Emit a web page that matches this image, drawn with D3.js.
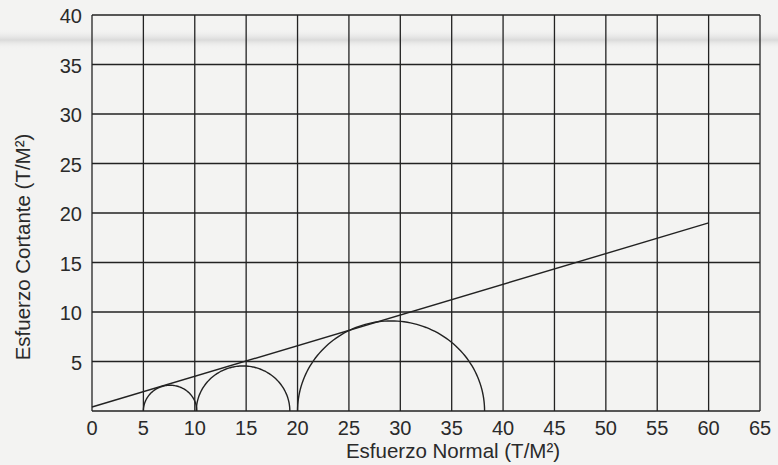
<!DOCTYPE html>
<html>
<head>
<meta charset="utf-8">
<script src="https://cdn.jsdelivr.net/npm/d3@7"></script>
<style>
  html, body { margin: 0; padding: 0; background: #f3f3f2; }
  svg { display: block; }
  text { font-family: "Liberation Sans", Arial, sans-serif; fill: #2a2a2a; }
</style>
</head>
<body>
<svg id="chart" width="778" height="465"></svg>
<script>
// Mohr circles (centre, radius) in T/M²
const circleCenters = [7.6, 14.7, 29.1];
const circleRadii = [2.6, 4.55, 9.1];
// Failure envelope end points: normal stress and shear stress
const envelopeX = [0, 60];
const envelopeY = [0.4, 19];
// Axis ticks
const xTicks = [0, 5, 10, 15, 20, 25, 30, 35, 40, 45, 50, 55, 60, 65];
const yTicks = [5, 10, 15, 20, 25, 30, 35, 40];
const xGrid = [0, 5, 10, 15, 20, 25, 30, 35, 40, 45, 50, 55, 60, 65];
const yGrid = [0, 5, 10, 15, 20, 25, 30, 35, 40];

const svg = d3.select("#chart");
const W = 778, H = 465;

// soft paper shading
const defs = svg.append("defs");
const grad = defs.append("linearGradient").attr("id", "band")
  .attr("x1", 0).attr("y1", 0).attr("x2", 0).attr("y2", 1);
grad.append("stop").attr("offset", "0%").attr("stop-color", "#f3f3f2").attr("stop-opacity", 0);
grad.append("stop").attr("offset", "55%").attr("stop-color", "#d2d2d2").attr("stop-opacity", 0.75);
grad.append("stop").attr("offset", "100%").attr("stop-color", "#f3f3f2").attr("stop-opacity", 0);
svg.append("rect").attr("width", W).attr("height", H).attr("fill", "#f3f3f2");
svg.append("rect").attr("x", 0).attr("y", 29).attr("width", W).attr("height", 20)
  .attr("fill", "url(#band)");

const x = d3.scaleLinear().domain([0, 65]).range([92, 760]);
const y = d3.scaleLinear().domain([0, 40]).range([411, 15]);

const ink = "#222";

// grid
const g = svg.append("g");
g.selectAll("line.v").data(xGrid).join("line")
  .attr("x1", d => x(d)).attr("x2", d => x(d))
  .attr("y1", y(0)).attr("y2", y(40))
  .attr("stroke", ink).attr("stroke-width", 1.3);
g.selectAll("line.h").data(yGrid).join("line")
  .attr("x1", x(0)).attr("x2", x(65))
  .attr("y1", d => y(d)).attr("y2", d => y(d))
  .attr("stroke", ink).attr("stroke-width", 1.3);

// x tick labels
svg.append("g").selectAll("text").data(xTicks).join("text")
  .attr("x", d => x(d)).attr("y", 435)
  .attr("text-anchor", "middle")
  .attr("font-size", 20)
  .text(d => d);

// y tick labels
svg.append("g").selectAll("text").data(yTicks).join("text")
  .attr("x", 82).attr("y", d => y(d) + 8)
  .attr("text-anchor", "end")
  .attr("font-size", 20)
  .text(d => d);

// axis titles
svg.append("text")
  .attr("x", 453).attr("y", 458)
  .attr("text-anchor", "middle").attr("font-size", 20.5)
  .text("Esfuerzo Normal (T/M²)");
svg.append("text")
  .attr("transform", "translate(30,247) rotate(-90)")
  .attr("text-anchor", "middle").attr("font-size", 20.5)
  .text("Esfuerzo Cortante (T/M²)");

// failure envelope
const line = d3.line().x(d => x(d[0])).y(d => y(d[1]));
svg.append("path")
  .datum(d3.zip(envelopeX, envelopeY))
  .attr("d", line)
  .attr("fill", "none").attr("stroke", ink).attr("stroke-width", 1.4);

// Mohr semicircles, traced in data space
const semi = (c, r) => d3.range(0, 181, 2).map(a => {
  const t = a * Math.PI / 180;
  return [c - r * Math.cos(t), r * Math.sin(t)];
});
svg.append("g").selectAll("path")
  .data(d3.zip(circleCenters, circleRadii))
  .join("path")
  .attr("d", d => line(semi(d[0], d[1])))
  .attr("fill", "none").attr("stroke", ink).attr("stroke-width", 1.4);
</script>
</body>
</html>
